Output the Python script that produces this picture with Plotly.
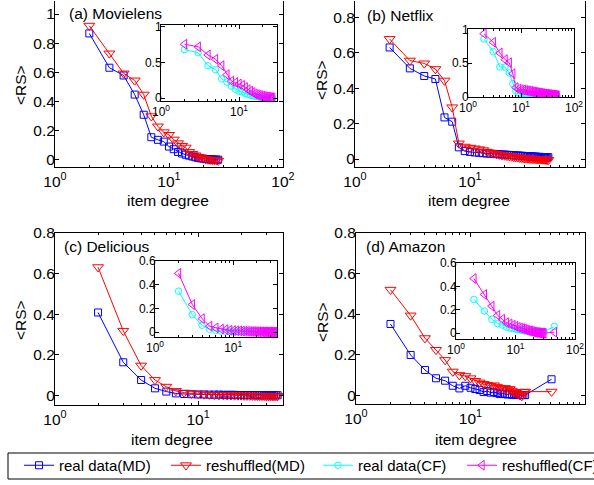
import plotly.graph_objects as go

W, H = 594, 485
FONT = "Liberation Sans, Arial, sans-serif"

# ---------------- data ----------------
deg_a = list(range(2, 28))
a_real_md = [0.867, 0.632, 0.579, 0.448, 0.310, 0.156, 0.138, 0.126, 0.092, 0.074, 0.055, 0.045, 0.036,
             0.030, 0.024, 0.019, 0.014, 0.011, 0.009, 0.007, 0.006, 0.005, 0.004, 0.003, 0.003, 0.002]
a_resh_md = [0.920, 0.730, 0.593, 0.545, 0.448, 0.300, 0.230, 0.190, 0.172, 0.140, 0.115, 0.097, 0.085,
             0.055, 0.042, 0.032, 0.022, 0.016, 0.010, 0.006, 0.004, 0.002, 0.001, 0.000, 0.000, -0.005]
a_real_cf = [0.680, 0.636, 0.455, 0.400, 0.270, 0.227, 0.170, 0.127, 0.100, 0.088, 0.070, 0.055, 0.045,
             0.036, 0.030, 0.025, 0.020, 0.015, 0.012, 0.010, 0.008, 0.006, 0.005, 0.004, 0.003, 0.002]
a_resh_cf = [0.755, 0.718, 0.605, 0.545, 0.455, 0.330, 0.240, 0.220, 0.200, 0.180, 0.150, 0.120, 0.100,
             0.080, 0.062, 0.050, 0.042, 0.035, 0.030, 0.025, 0.020, 0.018, 0.014, 0.010, 0.008, 0.004]

deg_b = list(range(2, 49))
b_real_md = [0.630, 0.512, 0.469, 0.452, 0.235, 0.211, 0.066, 0.045, 0.040, 0.037, 0.035, 0.033, 0.031,
             0.030, 0.029, 0.028, 0.027, 0.026, 0.025, 0.024, 0.023, 0.022, 0.021, 0.020, 0.020, 0.019,
             0.018, 0.018, 0.017, 0.016, 0.016, 0.015, 0.015, 0.014, 0.014, 0.013, 0.013, 0.012, 0.012,
             0.012, 0.011, 0.011, 0.011, 0.010, 0.010, 0.010, 0.010]
b_resh_md = [0.678, 0.556, 0.540, 0.508, 0.443, 0.292, 0.088, 0.070, 0.064, 0.060, 0.055, 0.050, 0.042,
             0.036, 0.032, 0.028, 0.025, 0.022, 0.020, 0.018, 0.016, 0.014, 0.012, 0.011, 0.010, 0.008,
             0.007, 0.006, 0.005, 0.004, 0.004, 0.003, 0.002, 0.002, 0.001, 0.001, 0.000, 0.000, 0.000,
             -0.001, -0.001, -0.002, -0.002, -0.003, -0.003, -0.004, -0.005]
b_real_cf = [0.860, 0.670, 0.440, 0.440, 0.350, 0.190, 0.080, 0.050, 0.040, 0.035, 0.032, 0.030, 0.028,
             0.026, 0.025, 0.024, 0.023, 0.022, 0.021, 0.020, 0.019, 0.018, 0.017, 0.016, 0.016, 0.015,
             0.014, 0.014, 0.013, 0.013, 0.012, 0.012, 0.011, 0.011, 0.010, 0.010, 0.009, 0.009, 0.008,
             0.008, 0.008, 0.007, 0.007, 0.006, 0.006, 0.005, 0.005]
b_resh_cf = [0.940, 0.810, 0.650, 0.550, 0.505, 0.340, 0.130, 0.110, 0.100, 0.095, 0.090, 0.085, 0.080,
             0.075, 0.070, 0.066, 0.062, 0.058, 0.055, 0.052, 0.049, 0.046, 0.043, 0.040, 0.038, 0.036,
             0.034, 0.032, 0.030, 0.028, 0.026, 0.025, 0.024, 0.022, 0.021, 0.020, 0.018, 0.017, 0.016,
             0.015, 0.014, 0.012, 0.011, 0.010, 0.008, 0.006, 0.004]

deg_c = list(range(2, 37))
c_real_md = [0.409, 0.164, 0.077, 0.036, 0.020, 0.011, 0.008, 0.007, 0.006, 0.006, 0.005, 0.005, 0.005,
             0.004, 0.004, 0.004, 0.004, 0.003, 0.003, 0.003, 0.003, 0.003, 0.003, 0.002, 0.002, 0.002,
             0.002, 0.002, 0.002, 0.002, 0.002, 0.002, 0.002, 0.002, 0.002]
c_resh_md = [0.632, 0.319, 0.148, 0.077, 0.044, 0.023, 0.015, 0.010, 0.008, 0.006, 0.005, 0.004, 0.003,
             0.003, 0.002, 0.002, 0.001, 0.001, 0.001, 0.000, 0.000, 0.000, 0.000, -0.001, -0.001, -0.001,
             -0.001, -0.001, -0.002, -0.002, -0.002, -0.002, -0.002, -0.002, -0.002]
c_real_cf = [0.345, 0.147, 0.057, 0.023, 0.012, 0.008, 0.006, 0.005, 0.005, 0.005, 0.004, 0.004, 0.004,
             0.004, 0.004, 0.004, 0.004, 0.004, 0.004, 0.004, 0.004, 0.004, 0.004, 0.004, 0.004, 0.004,
             0.004, 0.004, 0.004, 0.004, 0.004, 0.004, 0.004, 0.004, 0.004]
c_resh_cf = [0.496, 0.232, 0.113, 0.050, 0.035, 0.025, 0.020, 0.015, 0.012, 0.010, 0.009, 0.008, 0.007,
             0.006, 0.005, 0.004, 0.004, 0.003, 0.003, 0.002, 0.002, 0.002, 0.001, 0.001, 0.001, 0.001,
             0.000, 0.000, 0.000, 0.000, 0.000, 0.000, 0.000, 0.000, 0.000]

deg_d = list(range(2, 31)) + [51]
d_real_md = [0.351, 0.198, 0.124, 0.083, 0.071, 0.046, 0.033, 0.046, 0.036, 0.030, 0.025, 0.015, 0.020,
             0.012, 0.015, 0.010, 0.005, 0.008, 0.005, 0.003, 0.005, 0.002, 0.002, 0.000, 0.002, 0.000,
             0.000, 0.000, 0.000, 0.078]
d_resh_md = [0.520, 0.393, 0.281, 0.223, 0.173, 0.116, 0.099, 0.094, 0.083, 0.070, 0.062, 0.055, 0.050,
             0.045, 0.048, 0.040, 0.035, 0.030, 0.035, 0.025, 0.030, 0.020, 0.015, 0.010, 0.005, 0.000,
             -0.005, 0.015, 0.017, 0.017]
deg_d_in = list(range(2, 31)) + [45]
d_real_cf = [0.289, 0.190, 0.119, 0.082, 0.070, 0.054, 0.045, 0.040, 0.035, 0.030, 0.028, 0.025, 0.020,
             0.020, 0.018, 0.015, 0.015, 0.012, 0.012, 0.010, 0.010, 0.010, 0.010, 0.010, 0.010, 0.012,
             0.010, 0.010, 0.014, 0.057]
d_resh_cf = [0.467, 0.331, 0.232, 0.153, 0.119, 0.090, 0.080, 0.070, 0.060, 0.050, 0.045, 0.040, 0.035,
             0.030, 0.025, 0.020, 0.020, 0.015, 0.010, 0.010, 0.005, 0.008, 0.005, 0.003, 0.000, 0.002,
             0.000, 0.000, 0.000, 0.010]

panel_titles = ["(a) Movielens", "(b) Netflix", "(c) Delicious", "(d) Amazon"]
series_names = ["real data(MD)", "reshuffled(MD)", "real data(CF)", "reshuffled(CF)"]
x_tickvals = [1, 10, 100]
x_ticktext = ["10<sup>0</sup>", "10<sup>1</sup>", "10<sup>2</sup>"]
x_minorvals = [2, 3, 4, 5, 6, 7, 8, 9, 20, 30, 40, 50, 60, 70, 80, 90]
x_title = "item degree"
y_title = "&lt;RS&gt;"

# ---------------- styles ----------------
STY = {
    "real data(MD)": dict(color="rgb(0,0,255)", symbol="square-open", size=7),
    "reshuffled(MD)": dict(color="rgb(255,0,0)", symbol="triangle-down-open", size=9.5),
    "real data(CF)": dict(color="rgb(0,255,255)", symbol="circle-open", size=6.5),
    "reshuffled(CF)": dict(color="rgb(255,0,255)", symbol="triangle-left-open", size=8.5),
}
F_MAIN, F_INSET, F_LEG = 15.5, 12, 15


def x_geom(p0, p1, v0, v1):
    lo, hi = 0.5, W - 0.5
    f0, f1 = p0, p1
    if f0 < lo:
        v0 = v0 + (lo - f0) * (v1 - v0) / (f1 - f0)
        f0 = lo
    if f1 > hi:
        v1 = v0 + (hi - f0) * (v1 - v0) / (f1 - f0)
        f1 = hi
    return [f0 / W, f1 / W], [v0, v1]


def y_geom(top, bot, vt, vb):
    lo, hi = 0.5, H - 0.5
    ft, fb = top, bot
    if ft < lo:
        vt = vb + (fb - lo) * (vt - vb) / (fb - ft)
        ft = lo
    if fb > hi:
        vb = vt - (hi - ft) * (vt - vb) / (fb - ft)
        fb = hi
    return [1 - fb / H, 1 - ft / H], [vb, vt]


# panel geometry in pixels, with the axis values at the box edges
panels = [
    dict(mx=(55, 283, 0, 2), my=(0, 167, 1.096, -0.048),
         ix=(161, 277, 0, 1.487), iy=(25, 101, 1.023, -0.038),
         mdt=0.2, idt=0.5, top=True, lab=(67, 13), xt=(168, 200), yt=(20, 85)),
    dict(mx=(355, 585, 0, 2), my=(0, 167, 0.898, -0.045),
         ix=(468, 574, 0, 2), iy=(29, 97, 1.01, -0.01),
         mdt=0.2, idt=0.5, top=True, lab=(365, 15), xt=(469, 200), yt=(322, 80)),
    dict(mx=(55, 283, 0, 1.594), my=(233, 405, 0.8, -0.046),
         ix=(155, 277, 0, 1.56), iy=(261, 337, 0.6, -0.042),
         mdt=0.2, idt=0.2, top=False, lab=(62, 247), xt=(172, 439), yt=(20, 320)),
    dict(mx=(356, 585, 0, 2), my=(233, 404, 0.8, -0.044),
         ix=(456, 575, 0, 2), iy=(263, 339, 0.6, -0.049),
         mdt=0.2, idt=0.2, top=False, lab=(364, 247), xt=(476, 439), yt=(322, 322)),
]
# legend entries: x where each label text starts
legend_text_x = [59, 206, 358, 502]
legend_ids = ["legend", "legend2", "legend3", "legend4"]

data_main = [
    (deg_a, a_real_md, a_resh_md), (deg_b, b_real_md, b_resh_md),
    (deg_c, c_real_md, c_resh_md), (deg_d, d_real_md, d_resh_md),
]
data_inset = [
    (deg_a, a_real_cf, a_resh_cf), (deg_b, b_real_cf, b_resh_cf),
    (deg_c, c_real_cf, c_resh_cf), (deg_d_in, d_real_cf, d_resh_cf),
]

fig = go.Figure()
layout = dict(
    width=W, height=H, margin=dict(l=0, r=0, t=0, b=0, autoexpand=False),
    paper_bgcolor="white", plot_bgcolor="white",
    font=dict(family=FONT, color="black"),
    showlegend=True,
)


def axis_style(size, mirror="ticks"):
    return dict(showline=True, linecolor="black", linewidth=1, mirror=mirror,
                ticks="inside", ticklen=4, tickcolor="black", tickwidth=1,
                showgrid=False, zeroline=False,
                tickfont=dict(family=FONT, size=size, color="black"))


def add_trace(x, y, k, xa, ya, show):
    name = series_names[k]
    s = STY[name]
    fig.add_trace(go.Scatter(
        x=x, y=y, name=name, mode="lines+markers", xaxis=xa, yaxis=ya,
        showlegend=show, legendgroup=name, legend=legend_ids[k],
        line=dict(color=s["color"], width=1),
        marker=dict(symbol=s["symbol"], size=s["size"], color=s["color"],
                    line=dict(color=s["color"], width=1)),
    ))


def minor_ticks():
    return dict(tickmode="array", tickvals=x_minorvals, ticks="inside",
                ticklen=2, tickcolor="black", showgrid=False)


annotations = []
for i, p in enumerate(panels):
    mi = 2 * i + 1
    ii = 2 * i + 2

    xd, xr = x_geom(*p["mx"])
    yd, yr = y_geom(*p["my"])
    xm = axis_style(F_MAIN, mirror=False if p["top"] else "ticks")
    xm.update(type="log", range=xr, domain=xd, anchor=f"y{mi}",
              tickmode="array", tickvals=x_tickvals, ticktext=x_ticktext, minor=minor_ticks())
    ym = axis_style(F_MAIN)
    ym.update(range=yr, domain=yd, anchor=f"x{mi}", dtick=p["mdt"], tick0=0,
              ticklabelstandoff=-4)

    xd, xr = x_geom(*p["ix"])
    yd, yr = y_geom(*p["iy"])
    xi = axis_style(F_INSET)
    xi.update(type="log", range=xr, domain=xd, anchor=f"y{ii}",
              tickmode="array", tickvals=x_tickvals, ticktext=x_ticktext, minor=minor_ticks())
    yi = axis_style(F_INSET)
    yi.update(range=yr, domain=yd, anchor=f"x{ii}", dtick=p["idt"], tick0=0,
              ticklabelstandoff=-4)
    layout[f"xaxis{mi}"], layout[f"yaxis{mi}"] = xm, ym
    layout[f"xaxis{ii}"], layout[f"yaxis{ii}"] = xi, yi

    deg, real, resh = data_main[i]
    add_trace(deg, real, 0, f"x{mi}", f"y{mi}", i == 0)
    add_trace(deg, resh, 1, f"x{mi}", f"y{mi}", i == 0)
    degi, reali, reshi = data_inset[i]
    add_trace(degi, reali, 2, f"x{ii}", f"y{ii}", i == 0)
    add_trace(degi, reshi, 3, f"x{ii}", f"y{ii}", i == 0)

    lx, ly = p["lab"]
    annotations.append(dict(text=panel_titles[i], x=lx / W, y=1 - ly / H,
                            xref="paper", yref="paper", xanchor="left", yanchor="middle",
                            showarrow=False, font=dict(family=FONT, size=F_MAIN, color="black")))
    tx, ty = p["xt"]
    annotations.append(dict(text=x_title, x=tx / W, y=1 - ty / H,
                            xref="paper", yref="paper", xanchor="center", yanchor="middle",
                            showarrow=False, font=dict(family=FONT, size=F_MAIN, color="black")))
    yx, yy = p["yt"]
    annotations.append(dict(text=y_title, x=yx / W, y=1 - yy / H,
                            xref="paper", yref="paper", xanchor="center", yanchor="middle",
                            showarrow=False, textangle=-90,
                            font=dict(family=FONT, size=F_MAIN, color="black")))

layout["annotations"] = annotations
for k, lid in enumerate(legend_ids):
    layout[lid] = dict(orientation="h", x=(legend_text_x[k] - 40) / W, y=1 - 449 / H,
                       xanchor="left", yanchor="top", bgcolor="rgba(0,0,0,0)",
                       borderwidth=0, font=dict(family=FONT, size=F_LEG, color="black"),
                       itemwidth=30)
layout["shapes"] = [
    dict(type="rect", xref="paper", yref="paper", x0=8 / W, x1=1.02,
         y0=1 - 479 / H, y1=1 - 453 / H, line=dict(color="black", width=1),
         fillcolor="rgba(0,0,0,0)"),
]
fig.update_layout(**layout)
fig.write_html("out.html", config={"displayModeBar": False},
               post_script="document.body.style.margin='0';document.body.style.overflow='hidden';")
